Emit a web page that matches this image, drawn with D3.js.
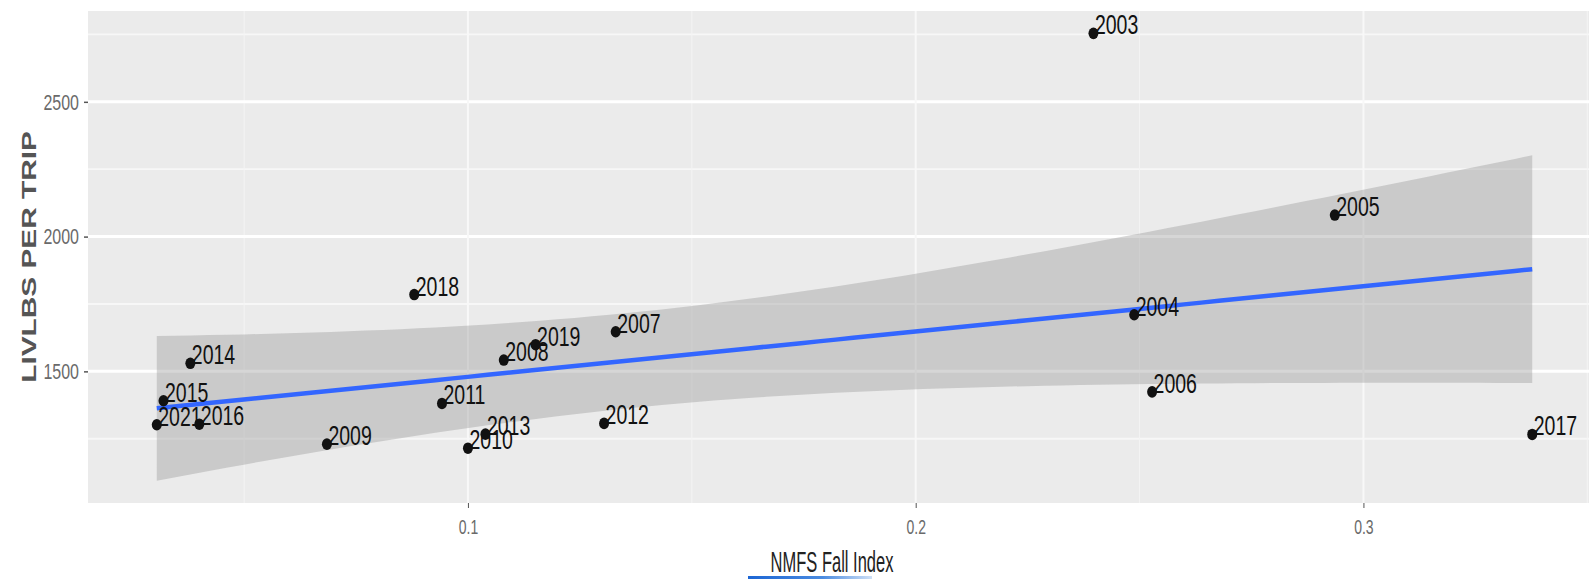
<!DOCTYPE html>
<html>
<head>
<meta charset="utf-8">
<script src="https://cdn.jsdelivr.net/npm/d3@7"></script>
<style>
  html, body { margin: 0; padding: 0; background: #fff; }
  svg { display: block; }
</style>
</head>
<body>
<div id="chart"></div>
<script>
// points: survey year, NMFS fall index, live lbs per trip
const years = [2003, 2005, 2004, 2006, 2017, 2018, 2007, 2012, 2008, 2019, 2011, 2013, 2010, 2014, 2015, 2021, 2016, 2009];
const fallIndex = [0.2397, 0.2936, 0.2488, 0.2528, 0.3377, 0.0880, 0.1330, 0.1304, 0.1080, 0.1151, 0.0942, 0.1039, 0.1000, 0.0380, 0.0320, 0.0305, 0.0400, 0.0685];
const livlbsPerTrip = [2754, 2080, 1710, 1424, 1266, 1785, 1647, 1307, 1542, 1599, 1381, 1267, 1215, 1530, 1391, 1302, 1304, 1230];

const xTicks = [0.1, 0.2, 0.3];
const yTicks = [1500, 2000, 2500];
const xMinor = [0.05, 0.15, 0.25, 0.35];
const yMinor = [1250, 1750, 2250, 2750];

const width = 1589;
const height = 579;
const stretch = 1.42; // source image is squashed sideways, text looks tall
const font = '"Liberation Sans", Arial, sans-serif';

// linear fit with 95% confidence band (like geom_smooth(method = "lm"))
const n = fallIndex.length;
const mx = d3.mean(fallIndex);
const my = d3.mean(livlbsPerTrip);
let sxx = 0, sxy = 0;
fallIndex.forEach((v, i) => {
  sxx += (v - mx) ** 2;
  sxy += (v - mx) * (livlbsPerTrip[i] - my);
});
const slope = sxy / sxx;
const intercept = my - slope * mx;
let sse = 0;
fallIndex.forEach((v, i) => {
  sse += (livlbsPerTrip[i] - (intercept + slope * v)) ** 2;
});
const sigma = Math.sqrt(sse / (n - 2));
const tCrit = 2.1199; // qt(0.975, df = 16)
const xExt = d3.extent(fallIndex);
const fit = d3.range(80).map(i => {
  const xv = xExt[0] + i * (xExt[1] - xExt[0]) / 79;
  const yhat = intercept + slope * xv;
  const se = sigma * Math.sqrt(1 / n + (xv - mx) ** 2 / sxx);
  return { x: xv, y: yhat, lo: yhat - tCrit * se, hi: yhat + tCrit * se };
});

// scales with ggplot's 5% expansion
const xPad = (xExt[1] - xExt[0]) * 0.05;
const x = d3.scaleLinear()
  .domain([xExt[0] - xPad, xExt[1] + xPad])
  .range([88, 1601]);
const yLo = Math.min(d3.min(livlbsPerTrip), d3.min(fit, d => d.lo));
const yHi = Math.max(d3.max(livlbsPerTrip), d3.max(fit, d => d.hi));
const yPad = (yHi - yLo) * 0.05;
const y = d3.scaleLinear()
  .domain([yLo - yPad, yHi + yPad])
  .range([503, 11]);

const svg = d3.select('#chart')
  .append('svg')
  .attr('width', width)
  .attr('height', height)
  .style('font-family', font);

svg.append('rect')
  .attr('width', width)
  .attr('height', height)
  .attr('fill', '#fff');

// panel
svg.append('rect')
  .attr('x', x.range()[0])
  .attr('y', y.range()[1])
  .attr('width', x.range()[1] - x.range()[0])
  .attr('height', y.range()[0] - y.range()[1])
  .attr('fill', '#ebebeb');

// grid lines
const grid = svg.append('g');
grid.selectAll('.hminor')
  .data(yMinor)
  .enter()
  .append('line')
  .attr('x1', x.range()[0]).attr('x2', x.range()[1])
  .attr('y1', d => y(d)).attr('y2', d => y(d))
  .attr('stroke', '#f7f7f7')
  .attr('stroke-width', 1.8);
grid.selectAll('.vminor')
  .data(xMinor)
  .enter()
  .append('line')
  .attr('x1', d => x(d)).attr('x2', d => x(d))
  .attr('y1', y.range()[1]).attr('y2', y.range()[0])
  .attr('stroke', '#f4f4f4')
  .attr('stroke-width', 1);
grid.selectAll('.hmajor')
  .data(yTicks)
  .enter()
  .append('line')
  .attr('x1', x.range()[0]).attr('x2', x.range()[1])
  .attr('y1', d => y(d)).attr('y2', d => y(d))
  .attr('stroke', '#fff')
  .attr('stroke-width', 3);
grid.selectAll('.vmajor')
  .data(xTicks)
  .enter()
  .append('line')
  .attr('x1', d => x(d)).attr('x2', d => x(d))
  .attr('y1', y.range()[1]).attr('y2', y.range()[0])
  .attr('stroke', '#f8f8f8')
  .attr('stroke-width', 2);

// confidence ribbon
svg.append('path')
  .datum(fit)
  .attr('d', d3.area().x(d => x(d.x)).y0(d => y(d.lo)).y1(d => y(d.hi)))
  .attr('fill', '#999999')
  .attr('fill-opacity', 0.4);

// fitted line
svg.append('path')
  .datum(fit)
  .attr('d', d3.line().x(d => x(d.x)).y(d => y(d.y)))
  .attr('fill', 'none')
  .attr('stroke', '#3366ff')
  .attr('stroke-width', 4.5);

// points
svg.selectAll('.pt')
  .data(years)
  .enter()
  .append('ellipse')
  .attr('cx', (d, i) => x(fallIndex[i]))
  .attr('cy', (d, i) => y(livlbsPerTrip[i]))
  .attr('rx', 5)
  .attr('ry', 5.8)
  .attr('fill', '#111');

// year labels, left/bottom anchored at the point
svg.selectAll('.lbl')
  .data(years)
  .enter()
  .append('text')
  .attr('transform', (d, i) => 'translate(' + (x(fallIndex[i]) + 1.5) + ',' + (y(livlbsPerTrip[i]) + 1) + ') scale(1,' + stretch + ')')
  .attr('font-size', 19.5)
  .attr('fill', '#111')
  .text(d => d);

// x axis
const xAxis = svg.append('g')
  .attr('transform', 'translate(0,' + y.range()[0] + ')')
  .call(d3.axisBottom(x).tickValues(xTicks).tickFormat(d3.format('.1f')).tickSize(5).tickPadding(7));
xAxis.select('.domain').remove();
xAxis.selectAll('line').attr('stroke', '#555').attr('stroke-width', 1);
xAxis.selectAll('text')
  .attr('font-size', 14)
  .attr('fill', '#6a6a6a')
  .attr('font-family', font)
  .attr('transform', 'scale(1,' + stretch + ')');

// y axis
const yAxis = svg.append('g')
  .attr('transform', 'translate(' + x.range()[0] + ',0)')
  .call(d3.axisLeft(y).tickValues(yTicks).tickFormat(d3.format('d')).tickSize(4).tickPadding(5));
yAxis.select('.domain').remove();
yAxis.selectAll('line').attr('stroke', '#555').attr('stroke-width', 1.5);
yAxis.selectAll('text')
  .attr('font-size', 16)
  .attr('fill', '#6a6a6a')
  .attr('font-family', font)
  .attr('transform', 'scale(1,' + stretch + ')')
  .attr('y', 0);

// axis titles
svg.append('text')
  .attr('transform', 'translate(832,572) scale(1,1.75)')
  .attr('text-anchor', 'middle')
  .attr('font-size', 16.5)
  .attr('fill', '#222')
  .text('NMFS Fall Index');

svg.append('text')
  .attr('transform', 'translate(28,257) rotate(-90) scale(' + stretch + ',1)')
  .attr('text-anchor', 'middle')
  .attr('dy', '0.36em')
  .attr('font-size', 21)
  .attr('font-weight', 'bold')
  .attr('fill', '#555')
  .text('LIVLBS PER TRIP');

// blue underline below the x title
const grad = svg.append('defs').append('linearGradient').attr('id', 'ul');
grad.append('stop').attr('offset', '0%').attr('stop-color', '#1c66d4');
grad.append('stop').attr('offset', '60%').attr('stop-color', '#4a8be0');
grad.append('stop').attr('offset', '100%').attr('stop-color', '#cfe0f6');
svg.append('rect')
  .attr('x', 748)
  .attr('y', 576)
  .attr('width', 124)
  .attr('height', 3)
  .attr('fill', 'url(#ul)');
</script>
</body>
</html>
